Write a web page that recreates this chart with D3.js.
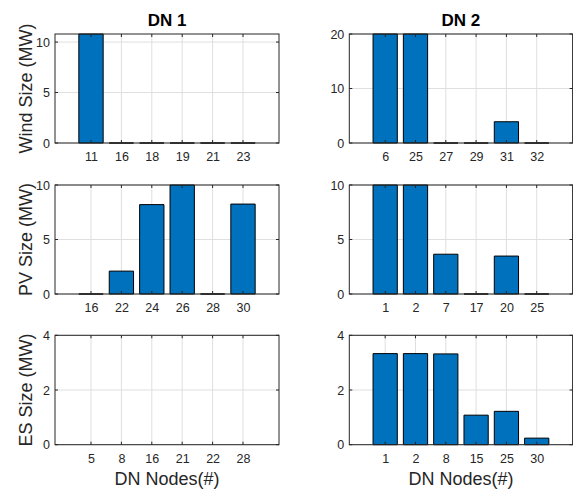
<!DOCTYPE html>
<html><head><meta charset="utf-8">
<script src="https://cdn.jsdelivr.net/npm/d3@7"></script>
<style>body{margin:0;background:#fff}svg{display:block}text{font-family:"Liberation Sans",Arial,sans-serif;fill:#262626}</style>
</head><body>
<script>
// ---- data ----
const windDN1Nodes = ["11","16","18","19","21","23"];
const windDN1Values = [10.8,0,0,0,0,0];
const windDN2Nodes = ["6","25","27","29","31","32"];
const windDN2Values = [20,20,0,0,3.9,0];
const pvDN1Nodes = ["16","22","24","26","28","30"];
const pvDN1Values = [0,2.1,8.2,10,0,8.25];
const pvDN2Nodes = ["1","2","7","17","20","25"];
const pvDN2Values = [10,10,3.65,0,3.48,0];
const esDN1Nodes = ["5","8","16","21","22","28"];
const esDN1Values = [0,0,0,0,0,0];
const esDN2Nodes = ["1","2","8","15","25","30"];
const esDN2Values = [3.33,3.33,3.32,1.08,1.22,0.24];
const windYTicks = [[0,5,10],[0,10,20]];
const pvYTicks = [[0,5,10],[0,5,10]];
const esYTicks = [[0,2,4],[0,2,4]];
const yMax = [[10.8,20],[10,10],[4,4]];
const colTitles = ["DN 1","DN 2"];
const rowLabels = ["Wind Size (MW)","PV Size (MW)","ES Size (MW)"];
const xLabel = "DN Nodes(#)";

const W=573,H=489;
const svg=d3.select("body").append("svg").attr("width",W).attr("height",H);
const cols=[[55,279],[349.3,572.6]];
const rows=[[34,143],[185,294],[335.3,444.7]];
const panels=[
 [{n:windDN1Nodes,v:windDN1Values,t:windYTicks[0]},{n:windDN2Nodes,v:windDN2Values,t:windYTicks[1]}],
 [{n:pvDN1Nodes,v:pvDN1Values,t:pvYTicks[0]},{n:pvDN2Nodes,v:pvDN2Values,t:pvYTicks[1]}],
 [{n:esDN1Nodes,v:esDN1Values,t:esYTicks[0]},{n:esDN2Nodes,v:esDN2Values,t:esYTicks[1]}]
];
const ax="#262626", grid="#dfdfdf", barFill="#0072BD";

panels.forEach((row,r)=>{
  row.forEach((p,c)=>{
    const [x0,x1]=cols[c],[y0,y1]=rows[r];
    const idx=p.n.map((d,i)=>i+1);
    const x=d3.scaleLinear().domain([1-1.184,p.n.length+1.184]).range([x0,x1]);
    const y=d3.scaleLinear().domain([0,yMax[r][c]]).range([y1,y0]);
    const g=svg.append("g");
    // grid
    g.selectAll(".gx").data(idx).join("line").attr("x1",d=>x(d)).attr("x2",d=>x(d)).attr("y1",y0).attr("y2",y1).attr("stroke",grid);
    g.selectAll(".gy").data(p.t).join("line").attr("x1",x0).attr("x2",x1).attr("y1",d=>y(d)).attr("y2",d=>y(d)).attr("stroke",grid);
    // bars (series that are entirely zero show no bars)
    const bw=0.8;
    if(d3.max(p.v)>0){
      g.selectAll(".bar").data(p.v).join("path")
        .attr("d",(v,i)=>{const a=x(i+1-bw/2),b=x(i+1+bw/2),t=y(v),z=y(0);return `M${a},${z}V${t}H${b}V${z}Z`;})
        .attr("fill",barFill).attr("stroke","#000").attr("stroke-width",1);
    }
    // axes via d3
    const xa=d3.axisBottom(x).tickValues(idx).tickFormat(d=>p.n[d-1]).tickSize(0).tickPadding(9);
    const xg=g.append("g").attr("transform",`translate(0,${y1})`).call(xa);
    xg.select(".domain").remove();
    xg.selectAll("text").attr("font-size","12.5px").style("fill",ax);
    const ya=d3.axisLeft(y).tickValues(p.t).tickFormat(d3.format("~g")).tickSize(0).tickPadding(5);
    const yg=g.append("g").attr("transform",`translate(${x0},0)`).call(ya);
    yg.select(".domain").remove();
    yg.selectAll("text").attr("font-size","12.5px").style("fill",ax);
    // inward ticks
    const tl=3;
    idx.forEach(d=>{
      g.append("line").attr("x1",x(d)).attr("x2",x(d)).attr("y1",y1).attr("y2",y1-tl).attr("stroke",ax);
      g.append("line").attr("x1",x(d)).attr("x2",x(d)).attr("y1",y0).attr("y2",y0+tl).attr("stroke",ax);
    });
    p.t.forEach(d=>{
      g.append("line").attr("x1",x0).attr("x2",x0+tl).attr("y1",y(d)).attr("y2",y(d)).attr("stroke",ax);
      g.append("line").attr("x1",x1).attr("x2",x1-tl).attr("y1",y(d)).attr("y2",y(d)).attr("stroke",ax);
    });
    g.append("rect").attr("x",x0).attr("y",y0).attr("width",x1-x0).attr("height",y1-y0).attr("fill","none").attr("stroke",ax);
    if(r===0) svg.append("text").attr("x",(x0+x1)/2).attr("y",26).attr("text-anchor","middle").attr("font-size","17px").attr("font-weight","bold").style("fill","#000").text(colTitles[c]);
    if(r===2) svg.append("text").attr("x",(x0+x1)/2).attr("y",485).attr("text-anchor","middle").attr("font-size","18px").text(xLabel);
    if(c===0) svg.append("text").attr("transform",`translate(32,${(y0+y1)/2}) rotate(-90)`).attr("text-anchor","middle").attr("font-size","18px").text(rowLabels[r]);
  });
});
</script>
</body></html>
